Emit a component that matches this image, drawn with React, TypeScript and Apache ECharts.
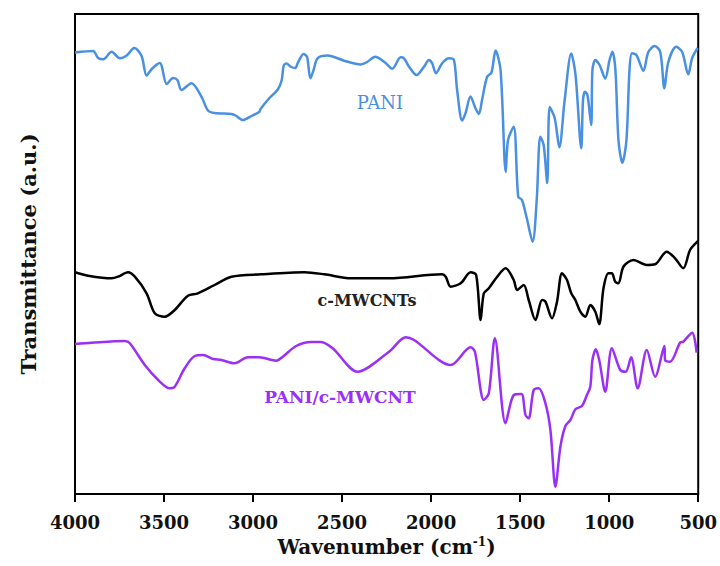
import React, { useEffect, useRef } from "react";
import * as echarts from "echarts";

// Wavenumber (cm-1) and transmittance (a.u.) for each spectrum
const paniWave = [4000, 3899, 3870, 3842, 3794, 3748, 3710, 3667, 3626, 3598, 3569, 3524, 3485, 3449, 3425, 3402, 3346, 3290, 3253, 3216, 3122, 3098, 3057, 3009, 2964, 2958, 2908, 2861, 2839, 2828, 2813, 2786, 2762, 2750, 2716, 2697, 2678, 2660, 2638, 2582, 2488, 2395, 2359, 2314, 2264, 2218, 2171, 2152, 2124, 2082, 2040, 2012, 1994, 1973, 1938, 1900, 1872, 1854, 1826, 1807, 1779, 1751, 1732, 1714, 1686, 1661, 1638, 1610, 1581, 1568, 1536, 1511, 1490, 1463, 1430, 1407, 1387, 1368, 1348, 1334, 1306, 1280, 1250, 1213, 1189, 1157, 1147, 1136, 1122, 1101, 1094, 1078, 1054, 1022, 998, 982, 965, 948, 926, 903, 886, 872, 847, 808, 780, 744, 713, 690, 668, 623, 590, 556, 534, 503];
const paniT = [441.5, 443, 436, 434.7, 442.3, 435.7, 438.5, 446, 438, 418.5, 425, 431, 410, 416, 414, 404, 410.7, 397.3, 383.5, 381, 380, 378.5, 374, 378, 382.3, 385, 396, 404.5, 414, 428.5, 430.5, 427, 426, 430.7, 440, 437.3, 415.7, 424, 435.7, 438.5, 433.3, 429.5, 432, 437.3, 432.3, 425.2, 436.7, 435.7, 427.3, 419, 427.3, 434, 430.7, 420.7, 430.7, 435.7, 434, 404, 373.5, 380.7, 397.5, 385.7, 380, 394, 417, 421.5, 443.5, 424, 322, 354, 367.3, 297.3, 294, 276, 252.3, 294, 357.3, 349, 311, 387, 376, 346.7, 394, 440.5, 419, 345.7, 394, 402.3, 399, 369, 424, 434, 429, 415.5, 434, 442.3, 424, 354, 331.3, 354, 424, 440.7, 439, 423.3, 442, 448, 442, 405.7, 432, 447.2, 442, 419.7, 436, 446];

const cntWave = [4000, 3926, 3794, 3758, 3702, 3664, 3598, 3552, 3496, 3440, 3366, 3310, 3216, 3122, 2954, 2712, 2600, 2450, 2236, 1938, 1918, 1890, 1834, 1778, 1747, 1722, 1704, 1676, 1629, 1582, 1536, 1517, 1480, 1452, 1414, 1377, 1358, 1321, 1293, 1265, 1237, 1213, 1190, 1162, 1134, 1106, 1078, 1056, 1032, 1004, 985, 966, 948, 920, 864, 789, 742, 677, 630, 584, 546, 509, 500];
const cntT = [221.7, 218.3, 215.7, 217.3, 221.7, 217.3, 200.7, 180.7, 177.3, 184, 198.3, 200.7, 209, 217.3, 219.7, 221.7, 219.7, 215.7, 215.7, 219.7, 217.3, 207.3, 210.7, 221.7, 219, 174, 200.7, 205.7, 217.3, 225.7, 214, 204, 209, 194, 174, 194, 192.3, 175.7, 192.3, 220.7, 214, 200.7, 194, 182.3, 177.3, 189, 182.3, 169.7, 205.7, 220.7, 220.7, 212.3, 210.7, 227.3, 234, 229, 229.7, 242.3, 235.7, 225.7, 244, 251.7, 253];

const compWave = [4000, 3906, 3720, 3692, 3608, 3533, 3468, 3440, 3384, 3328, 3281, 3225, 3178, 3104, 3029, 2964, 2870, 2833, 2758, 2674, 2618, 2553, 2413, 2236, 2142, 2096, 1890, 1778, 1754, 1704, 1676, 1642, 1582, 1536, 1493, 1470, 1452, 1424, 1396, 1358, 1330, 1302, 1274, 1246, 1218, 1190, 1153, 1125, 1106, 1094, 1075, 1056, 1022, 985, 938, 907, 877, 840, 789, 742, 690, 686, 658, 602, 584, 534, 509];
const compT = [150, 151.3, 153, 150.7, 129, 114, 105.7, 107.3, 125.7, 138, 139, 135, 134, 130.7, 136.7, 136.7, 133.3, 137.3, 148, 152, 152, 145.7, 122.3, 142.3, 156.7, 154, 129, 146.7, 142.3, 94, 100.7, 155.7, 70.7, 99, 100, 79, 75.7, 104, 105.7, 90.7, 64, 7.3, 47.3, 68, 74, 84.7, 88, 99, 107.3, 134, 144.7, 134, 102.3, 145.7, 124, 122.3, 136.7, 105.7, 144, 117.3, 148, 134, 132.3, 151.3, 152.3, 161.3, 141.3];

const xTicks = { min: 500, max: 4000, interval: 500 };
const seriesNames = ["PANI", "c-MWCNTs", "PANI/c-MWCNT"];
const seriesColors = ["#4a90e2", "#000000", "#9b30f5"];

const zip = (xs: number[], ys: number[]) => xs.map((x, i) => [x, ys[i]]);

export default function App() {
  const ref = useRef<HTMLDivElement>(null);
  useEffect(() => {
    if (!ref.current) return;
    const chart = echarts.init(ref.current, null, { renderer: "svg" });
    const font = "DejaVu Serif";
    const datasets = [zip(paniWave, paniT), zip(cntWave, cntT), zip(compWave, compT)];
    chart.setOption({
      animation: false,
      backgroundColor: "#ffffff",
      grid: {
        left: 75,
        right: 20,
        top: 14,
        bottom: 72,
        show: true,
        borderColor: "#000",
        borderWidth: 2,
        backgroundColor: "transparent",
      },
      xAxis: {
        type: "value",
        inverse: true,
        min: xTicks.min,
        max: xTicks.max,
        interval: xTicks.interval,
        name: "Wavenumber (cm{sup|-1})",
        nameLocation: "middle",
        nameGap: 37,
        nameTextStyle: {
          fontFamily: font,
          fontWeight: "bold",
          fontSize: 20,
          color: "#111",
          rich: {
            sup: { fontFamily: font, fontWeight: "bold", fontSize: 12, verticalAlign: "top", padding: [0, 0, 10, 0], color: "#111" },
          },
        },
        axisLine: { show: true, onZero: false, lineStyle: { color: "#000", width: 2 } },
        axisTick: { show: true, inside: false, length: 8, lineStyle: { color: "#000", width: 2 } },
        axisLabel: {
          margin: 19,
          fontFamily: font,
          fontWeight: "bold",
          fontSize: 18,
          color: "#111",
          formatter: (v: number) => String(v),
        },
        splitLine: { show: false },
      },
      yAxis: {
        type: "value",
        min: 0,
        max: 480,
        name: "Transmittance (a.u.)",
        nameLocation: "middle",
        nameGap: 36,
        nameTextStyle: { fontFamily: font, fontWeight: "bold", fontSize: 21, color: "#111" },
        axisLine: { show: false },
        axisTick: { show: false },
        axisLabel: { show: false },
        splitLine: { show: false },
      },
      series: datasets.map((d, i) => ({
        name: seriesNames[i],
        type: "line",
        data: d,
        showSymbol: false,
        smooth: 0.3,
        lineStyle: { color: seriesColors[i], width: 2.5 },
        itemStyle: { color: seriesColors[i] },
      })),
      graphic: [
        { type: "text", x: 380, y: 102, style: { text: seriesNames[0], fill: seriesColors[0], font: `18px "${font}"`, textAlign: "center", textVerticalAlign: "middle" } },
        { type: "text", x: 367, y: 300, style: { text: seriesNames[1], fill: "#222", font: `bold 16px "${font}"`, textAlign: "center", textVerticalAlign: "middle" } },
        { type: "text", x: 340, y: 397, style: { text: seriesNames[2], fill: seriesColors[2], font: `bold 17px "${font}"`, textAlign: "center", textVerticalAlign: "middle" } },
      ],
    });
    return () => chart.dispose();
  }, []);
  return <div ref={ref} style={{ position: "fixed", left: 0, top: 0, width: 720, height: 566 }} />;
}
